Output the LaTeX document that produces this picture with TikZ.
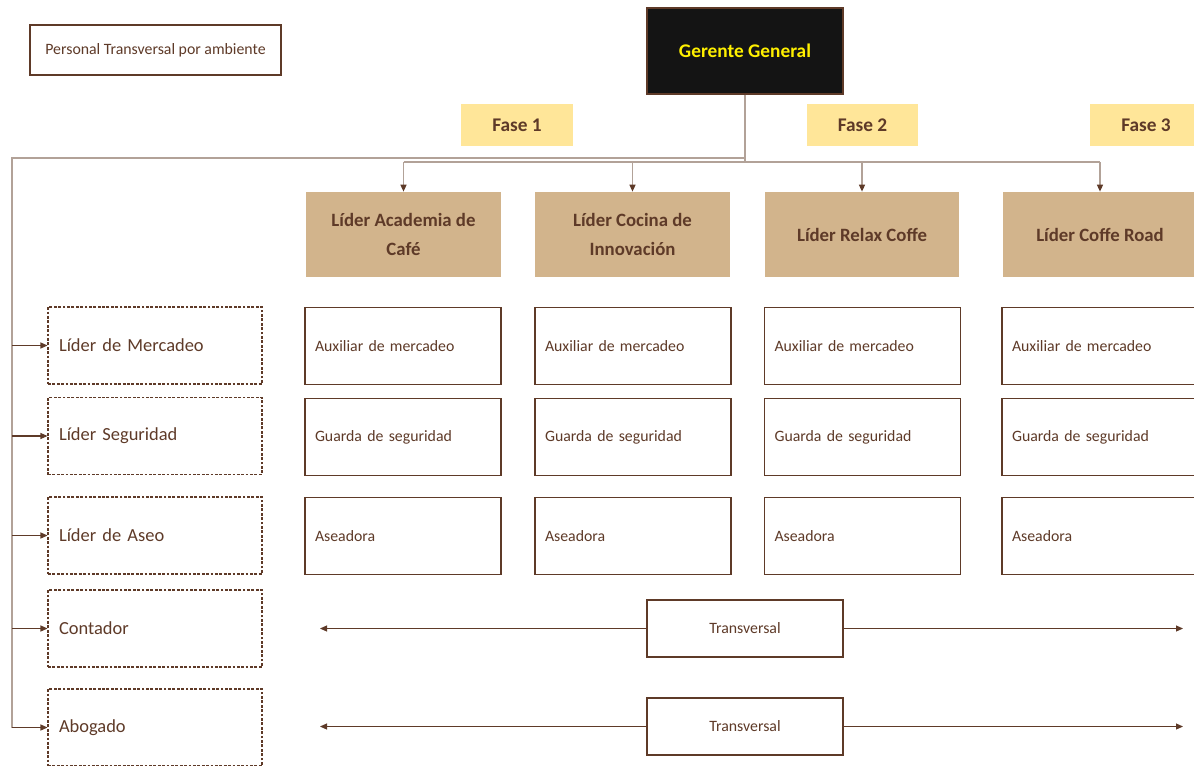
\documentclass[tikz,border=0pt]{standalone}
\usepackage{fontspec}
\setmainfont{Carlito}
\usetikzlibrary{arrows.meta}
\definecolor{cafe}{RGB}{94,58,40}
\definecolor{linea}{RGB}{178,162,152}
\definecolor{tostado}{RGB}{210,180,140}
\definecolor{fase}{RGB}{255,230,153}
\definecolor{amarillo}{RGB}{255,240,0}
\definecolor{negro}{RGB}{20,20,20}

\begin{document}
\begin{tikzpicture}[x=0.02cm,y=-0.02cm,
  caja/.style={draw=cafe,line width=.8pt,fill=white,text=cafe,inner sep=0pt},
  lider/.style={fill=tostado,text=cafe,font=\bfseries\fontsize{10.7}{16}\selectfont,
    minimum width=3.9cm,minimum height=1.7cm,align=center,inner sep=0pt},
  fasebox/.style={fill=fase,text=cafe,font=\bfseries\fontsize{11}{13}\selectfont,
    minimum width=2.24cm,minimum height=.84cm,inner sep=0pt},
  puesto/.style={caja,font=\fontsize{9}{11}\selectfont,minimum height=1.54cm,
    text width=3.52cm,inner xsep=.2cm,align=left},
  apoyo/.style={draw=cafe,line width=.6pt,dash pattern=on 1.6pt off .9pt,text=cafe,
    font=\fontsize{10.5}{13}\selectfont,minimum height=1.54cm,
    text width=3.84cm,inner xsep=.22cm,align=left},
  tronco/.style={draw=linea,line width=.8pt},
  rama/.style={draw=cafe,line width=.6pt},
  punta/.style={-{Triangle[length=1.4mm,width=1.2mm,color=cafe]}}]
  \useasboundingbox (0,0) rectangle (1194,765);
  \node[caja,font=\fontsize{9}{11}\selectfont,minimum width=5.02cm,minimum height=1cm]
    (pta) at (155.5,50) {Personal Transversal por ambiente};
  \node[draw=cafe,line width=.8pt,fill=negro,text=amarillo,font=\bfseries\fontsize{11}{13}\selectfont,
    minimum width=3.92cm,minimum height=1.72cm,inner sep=0pt] (gg) at (745,51) {Gerente General};
  \foreach \i/\x in {1/517,2/862.5,3/1146}
    \node[fasebox] (f\i) at (\x,125) {Fase \i};
  \foreach \i/\x/\t in {1/403.5/{Líder Academia de\\Café},2/632.5/{Líder Cocina de\\Innovación},
      3/862/{Líder Relax Coffe},4/1100/{Líder Coffe Road}}
    \node[lider] (l\i) at (\x,234.5) {\t};
  \foreach \j/\x in {1/403,2/633,3/862.5,4/1100} {
    \foreach \k/\y/\t in {1/346/Auxiliar de mercadeo,2/437/Guarda de seguridad,3/536/Aseadora}
      \node[puesto] (s\j\k) at (\x,\y) {\t};
  }
  \foreach \i/\y/\t in {1/345.5/Líder de Mercadeo,2/436/Líder Seguridad,3/535.5/Líder de Aseo,
      4/628.5/Contador,5/727.5/Abogado}
    \node[apoyo] (d\i) at (155,\y) {\t};
  % gerente hacia los lideres
  \coordinate (bus) at (745,162);
  \coordinate (izq) at (12,158);
  \draw[tronco] (gg.south) -- (bus);
  \draw[tronco] (l1.north |- bus) -- (l4.north |- bus);
  \foreach \i in {1,...,4}
    \draw[tronco,punta] (l\i.north |- bus) -- (l\i.north);
  % personal transversal
  \draw[tronco] (gg.south |- izq) -- (izq) -- (izq |- d5.west);
  \foreach \i in {1,...,5}
    \draw[rama,punta] (izq |- d\i.west) -- (d\i.west);
  % transversales
  \coordinate (ti1) at (320,628.5);
  \coordinate (td1) at (1183,628.5);
  \coordinate (ti2) at (320,726.5);
  \coordinate (td2) at (1183,726.5);
  \foreach \i/\y in {1/628.5,2/726.5} {
    \node[caja,font=\fontsize{9}{11}\selectfont,minimum width=3.92cm,minimum height=1.14cm]
      (t\i) at (745,\y) {Transversal};
    \draw[rama,punta] (t\i.west) -- (ti\i);
    \draw[rama,punta] (t\i.east) -- (td\i);
  }
\end{tikzpicture}
\end{document}
